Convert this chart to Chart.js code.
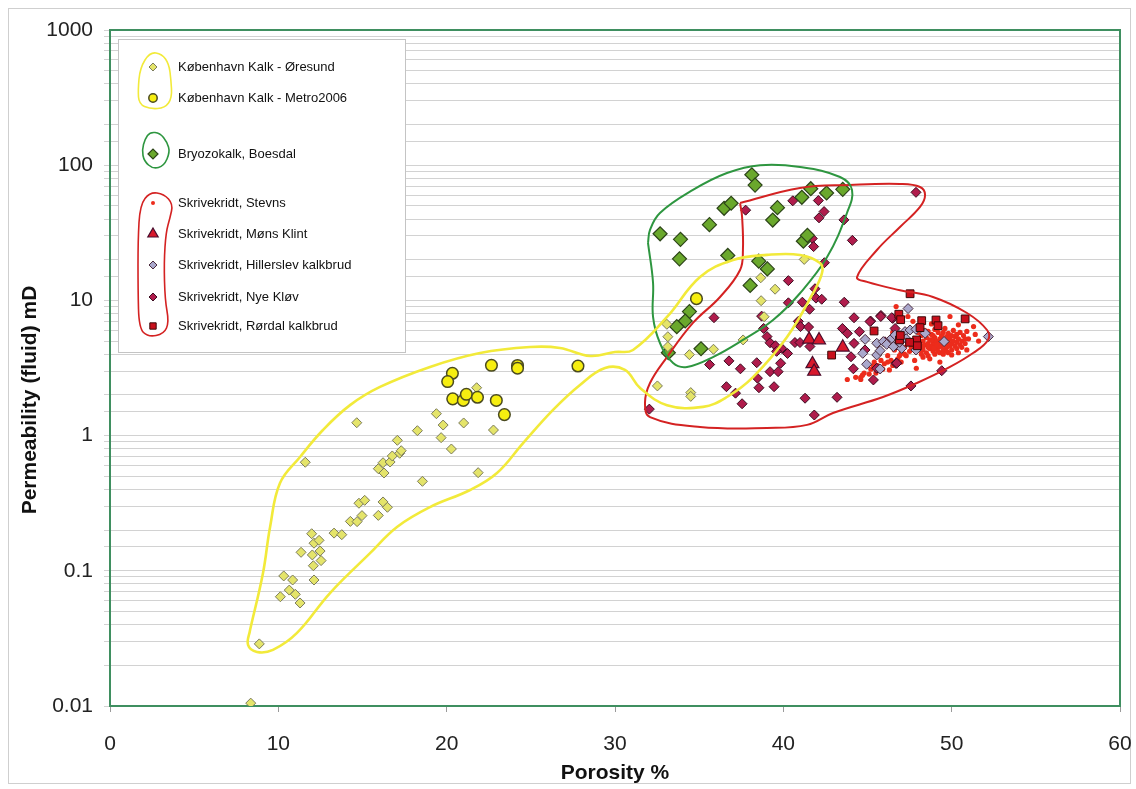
<!DOCTYPE html>
<html>
<head>
<meta charset="utf-8">
<script src="https://cdn.jsdelivr.net/npm/chart.js@4/dist/chart.umd.min.js"></script>
<style>
html,body{margin:0;padding:0;background:#fff}
</style>
</head>
<body>
<canvas id="chart" width="1136" height="789"></canvas>
<script>
// porosity %, permeability mD
var oresund=[[8.36,0.0105],[8.87,0.0288],[10.12,0.0643],[10.32,0.0916],[10.65,0.072],[10.85,0.0855],[11.01,0.067],[11.29,0.0578],
 [11.6,0.635],[11.35,0.137],[11.98,0.188],[12.12,0.16],[12.42,0.168],[12.02,0.131],[12.48,0.14],[12.54,0.119],[12.08,0.109],[12.12,0.0855],
 [13.31,0.19],[13.77,0.185],[14.28,0.232],[14.68,0.231],[14.97,0.256],[14.79,0.316],[15.13,0.332],[14.66,1.245],[15.94,0.257],[16.22,0.323],
 [16.48,0.295],[15.94,0.569],[16.28,0.529],[16.22,0.63],[16.64,0.638],[16.77,0.707],[17.21,0.74],[17.3,0.773],[17.07,0.923],[18.26,1.087],
 [18.56,0.459],[19.39,1.452],[19.79,1.197],[19.67,0.966],[20.28,0.796],[21.01,1.24],[21.78,2.26],[22.78,1.1],[21.87,0.532],
 [33.08,6.66],[33.14,5.39],[33.14,4.55],[32.52,2.33],[34.5,2.08],[34.5,1.95],[34.42,3.97],[35.85,4.35],[37.61,5.1],[38.68,9.95],
 [38.66,14.7],[39.51,12.1],[38.86,7.57],[41.24,20.1]]
var metro2006=[[20.34,2.89],[20.06,2.51],[20.36,1.87],[20.99,1.82],[21.17,2.02],[21.83,1.92],[22.66,3.31],[24.21,3.3],[24.21,3.15],
 [22.95,1.82],[23.43,1.43],[27.8,3.27],[34.84,10.3]]
var bryozokalk=[[38.13,85],[38.32,71.3],[36.48,48],[36.9,52.3],[35.61,36.3],[32.68,31.1],[33.89,28.3],[33.83,20.3],[36.7,21.5],
 [39.65,48.5],[39.37,39.3],[41.1,57.9],[41.63,67],[42.57,62.3],[43.53,66.3],[41.19,27.4],[41.43,30.3],[38.54,19.5],[39.05,17.1],
 [38.03,12.9],[34.42,8.26],[34.17,7.04],[33.67,6.39],[35.11,4.39],[33.17,4.1]]
var stevns=[[47.9,5.2],[48.0,4.6],[48.1,4.9],[48.2,5.5],[48.3,4.3],[48.3,5.0],[48.4,4.7],[48.5,5.3],[48.5,4.1],[48.6,4.8],[48.7,5.1],
 [48.7,4.4],[48.8,5.6],[48.8,4.6],[48.9,4.9],[48.9,4.2],[49.0,5.3],[49.0,4.7],[49.1,5.0],[49.1,4.4],[49.2,5.8],[49.2,4.8],[49.3,4.1],
 [49.3,5.2],[49.4,4.6],[49.4,5.5],[49.5,4.9],[49.5,4.3],[49.6,5.1],[49.6,4.7],[49.7,5.4],[49.7,4.5],[49.8,4.9],[49.8,5.7],[49.9,4.6],
 [49.9,5.2],[50.0,4.8],[50.0,4.3],[50.1,5.0],[50.2,5.4],[50.2,4.6],[50.3,4.9],[50.4,5.2],[50.5,4.7],[50.6,5.0],[50.7,5.5],[50.8,4.8],
 [48.2,4.0],[48.6,3.9],[49.0,4.0],[49.5,4.0],[48.0,5.8],[48.4,6.0],[49.0,6.1],[49.6,6.2],[50.1,6.0],[50.5,5.8],[47.7,4.4],[47.6,5.0],
 [47.5,4.2],[47.4,4.8],[47.3,3.9],[47.2,4.5],[47.0,4.1],[46.8,3.7],[46.6,4.3],[46.4,3.6],[46.2,3.9],[46.0,3.4],[45.8,3.6],[45.6,3.3],
 [45.4,3.5],[45.2,3.1],[45.0,3.3],[44.8,2.9],[44.6,2.6],[44.7,2.8],[43.8,2.6],[44.6,2.7],[46.7,9.0],[47.7,7.0],[49.9,7.6],[50.4,6.6],
 [51.4,5.6],[51.3,6.4],[50.0,3.95],[47.9,3.15],[46.3,3.06],[45.35,3.3],[47.0,3.5],[48.7,3.7],[49.3,3.5],[51.0,5.2],[51.6,5.0],
 [50.9,4.3],[50.4,4.1],[48.8,6.7],[47.4,7.6],[46.5,5.8],[48.6,5.9],[49.8,4.1],[50.9,5.9],[48.95,4.45],[49.25,4.55],[49.65,4.85],
 [47.8,4.7],[48.1,4.3],[48.4,5.6],[48.6,4.5],[48.9,5.5],[49.2,4.2],[49.5,5.8],[49.7,4.2],[50.0,5.5],[50.3,4.4],[50.6,4.5],[49.1,4.7],
 [49.4,5.0],[48.8,5.1],[49.8,5.3],[50.3,5.6],[48.3,4.6],[48.0,5.1],[47.6,4.5],[47.2,4.0],[46.9,3.9],[46.5,3.3],[45.9,3.1],[45.5,2.9],
 [45.1,2.85],[44.3,2.7],[46.2,3.5],[47.8,3.6],[48.3,3.8],[50.8,5.2]]
var monsKlint=[[41.53,5.15],[42.12,5.09],[43.53,4.5],[41.73,3.39],[41.83,2.98]]
var hillerslev=[[47.41,8.7],[52.18,5.4],[44.86,5.15],[45.55,4.82],[45.94,4.96],[44.72,4.06],[45.55,3.95],[45.75,4.25],[44.95,3.37],
 [45.75,3.11],[46.14,4.73],[46.44,5.25],[46.84,5.55],[47.23,5.88],[47.53,6.04],[46.54,4.55],[47.03,4.42],[47.88,4.3],[48.42,5.71],
 [49.55,4.96],[47.88,6.11],[46.64,5.55],[47.3,5.2],[46.9,4.9]]
var nyeKlov=[[47.88,63],[40.56,54.5],[42.08,54.8],[37.76,46.5],[42.42,45.4],[42.12,40.8],[43.6,39.4],[41.72,28.7],[41.8,25],[44.1,27.8],
 [42.44,19],[40.3,14],[41.88,12.2],[41.94,10.4],[42.28,10.2],[40.3,9.6],[41.13,9.7],[41.56,8.6],[43.62,9.7],[35.88,7.45],[38.71,7.65],
 [38.83,6.2],[40.89,7.0],[41.02,6.4],[41.5,6.35],[39.03,5.4],[39.21,4.86],[39.53,4.62],[39.9,4.42],[39.6,4.2],[40.25,4.05],[40.69,4.88],
 [40.99,4.88],[41.58,4.56],[39.84,3.43],[35.62,3.35],[36.77,3.57],[38.42,3.46],[37.45,3.12],[39.21,2.97],[39.69,2.97],[38.46,2.66],
 [38.55,2.26],[39.45,2.3],[36.62,2.3],[37.16,2.06],[37.55,1.72],[41.29,1.89],[43.19,1.92],[41.84,1.42],[32.04,1.57],[44.2,7.44],
 [45.19,7.03],[45.8,7.74],[43.51,6.2],[43.8,5.7],[44.52,5.87],[44.2,4.81],[44.02,3.83],[44.16,3.12],[45.35,2.58],[46.69,3.42],
 [46.04,4.94],[44.85,4.3],[47.58,2.33],[49.41,3.02],[46.5,7.36],[46.74,4.68],[46.64,6.2],[46.74,3.43],[45.55,3.15],[45.15,6.97],
 [45.79,7.6],[46.44,7.45]]
var rordal=[[47.53,11.2],[46.86,7.9],[46.97,7.2],[48.22,7.08],[49.07,7.16],[49.19,6.5],[50.8,7.3],[48.12,6.29],[45.39,5.94],[42.87,3.94],
 [46.9,5.1],[47.92,5.1],[47.96,4.62],[46.95,5.5],[47.5,4.9]]

// hand drawn envelopes, closed loops
var envelopeYellow=[[8.32,0.0365],[9.09,0.0964],[9.51,0.211],[10.1,0.446],[11.29,0.695],[12.65,1.1],[14.26,1.68],[16.04,2.29],[19.01,3.22],
 [21.98,4.08],[24.95,4.52],[26.73,4.45],[28.52,3.88],[30.0,4.15],[31.07,4.3],[33.09,7.54],[35.05,14.9],[37.01,19.9],[39.03,21.7],
 [40.99,21.7],[42.18,18.9],[42.3,16],[41.76,11.3],[40.22,5.36],[38.2,2.71],[36.65,1.93],[35.23,1.63],[33.09,1.68],[31.49,2.25],
 [30.59,3.06],[29.41,3.16],[27.92,2.37],[26.32,1.55],[24.54,0.881],[22.99,0.529],[21.39,0.396],[19.01,0.296],[17.05,0.211],
 [15.45,0.135],[13.07,0.0685],[11.11,0.0347],[9.68,0.026],[8.73,0.0251],[8.2,0.0283],[8.32,0.0365]]
var envelopeGreen=[[31.96,26.6],[32.26,13.5],[32.26,7.54],[32.67,4.84],[33.45,3.44],[34.28,3.22],[35.82,3.81],[37.6,5.1],[39.39,7.16],
 [40.99,11.3],[42.6,20.9],[43.78,44.3],[44.08,65.6],[43.37,81.8],[40.99,97],[38.62,100],[36.65,87.5],[34.63,65.6],[32.67,44.3],
 [32.08,33.2],[31.96,26.6]]
var envelopeRed=[[37.43,52.5],[40.99,67.8],[43.96,71.4],[46.93,72.6],[48.12,69],[48.42,60.2],[48.12,49.1],[46.93,34.9],[45.56,23.6],
 [44.38,14.9],[44.97,13.7],[46.93,11.9],[48.89,10.6],[50.91,8.07],[52.1,6.04],[52.16,5.1],[51.27,4.08],[49.9,3.22],[47.94,2.45],
 [45.92,1.93],[42.95,1.47],[41.41,1.2],[39.03,1.14],[35.05,1.16],[32.08,1.37],[31.78,1.74],[32.08,2.45],[33.09,3.81],[34.63,6.81],
 [36.24,10.6],[37.43,16.8],[37.6,23.6],[37.55,41.4],[37.43,52.5]]

var legendLabels=['København Kalk - Øresund','København Kalk - Metro2006','Bryozokalk, Boesdal','Skrivekridt, Stevns',
 'Skrivekridt, Møns Klint','Skrivekridt, Hillerslev kalkbrud','Skrivekridt, Nye Kløv','Skrivekridt, Rørdal kalkbrud']
var xTitle='Porosity %'
var yTitle='Permeability (fluid) mD'

var FONT='"Liberation Sans", Arial, sans-serif'

function pts(a){return a.map(function(p){return {x:p[0],y:p[1]}})}

var styles=[
 {style:'rectRot',r:5,bg:'#e4e46a',bd:'#7c7c5c',bw:1},
 {style:'circle',r:5.8,bg:'#f6ee10',bd:'#4a4a20',bw:1.5},
 {style:'rectRot',r:7,bg:'#6aa82c',bd:'#2c4418',bw:1.2},
 {style:'circle',r:2.6,bg:'#ec2c1c',bd:'#ec2c1c',bw:0},
 {style:'triangle',r:7.5,bg:'#d8182c',bd:'#4a0c2c',bw:1.2},
 {style:'rectRot',r:5,bg:'#aaa8cc',bd:'#4a2a3c',bw:1},
 {style:'rectRot',r:5,bg:'#b01c4c',bd:'#3c0c20',bw:1},
 {style:'rect',r:5.5,bg:'#c8101c',bd:'#3a0808',bw:1}
]
var series=[oresund,metro2006,bryozokalk,stevns,monsKlint,hillerslev,nyeKlov,rordal]
var orders=[6,5,7,9,3,4,8,2]

var datasets=series.map(function(s,i){
 var st=styles[i]
 return {label:legendLabels[i],data:pts(s),pointStyle:st.style,pointRadius:st.r,pointHoverRadius:st.r,
  backgroundColor:st.bg,borderColor:st.bd,pointBorderWidth:st.bw,borderWidth:st.bw,showLine:false,order:orders[i]}
})
;[[envelopeYellow,'#f2ea3a',2.6],[envelopeGreen,'#2e9640',2],[envelopeRed,'#d42222',2]].forEach(function(e){
 datasets.push({label:'',data:pts(e[0]),showLine:true,pointRadius:0,borderColor:e[1],borderWidth:e[2],
  backgroundColor:'transparent',fill:false,tension:0.4,order:0})
})

function blob(ctx,p){
 var n=p.length
 function mid(a,b){return [(a[0]+b[0])/2,(a[1]+b[1])/2]}
 var m=mid(p[n-1],p[0])
 ctx.beginPath();ctx.moveTo(m[0],m[1])
 for(var i=0;i<n;i++){
  var q=mid(p[i],p[(i+1)%n])
  ctx.quadraticCurveTo(p[i][0],p[i][1],q[0],q[1])
 }
 ctx.closePath();ctx.stroke()
}

var frame={
 id:'frame',
 beforeDraw:function(chart){
  var ctx=chart.ctx
  ctx.save()
  ctx.fillStyle='#fff';ctx.fillRect(0,0,chart.width,chart.height)
  ctx.strokeStyle='#cfcfcf';ctx.lineWidth=1
  ctx.strokeRect(8.5,8.5,1122,775)
  ctx.restore()
 },
 beforeDatasetsDraw:function(chart){
  var a=chart.chartArea,ctx=chart.ctx
  ctx.save()
  ctx.strokeStyle='#3f8f60';ctx.lineWidth=2
  ctx.strokeRect(a.left,a.top,a.right-a.left,a.bottom-a.top)
  ctx.restore()
 },
 afterDraw:function(chart){
  var ctx=chart.ctx
  ctx.save()
  // y axis title
  ctx.save()
  ctx.translate(30,400);ctx.rotate(-Math.PI/2)
  ctx.font='bold 21px '+FONT;ctx.fillStyle='#111';ctx.textAlign='center';ctx.textBaseline='middle'
  ctx.fillText(yTitle,0,0)
  ctx.restore()
  // legend
  ctx.fillStyle='#fff';ctx.strokeStyle='#c4c4c4';ctx.lineWidth=1
  ctx.fillRect(118.5,39.5,287,313);ctx.strokeRect(118.5,39.5,287,313)
  var ys=[67,98,154,203,234,265,297,326]
  ctx.font='13px '+FONT;ctx.textBaseline='middle'
  for(var i=0;i<8;i++){
   var st=styles[i]
   ctx.fillStyle=st.bg;ctx.strokeStyle=st.bd;ctx.lineWidth=st.bw
   var r=[4,4.2,5,2,6,4,4,4.5][i]
   Chart.helpers.drawPoint(ctx,{pointStyle:st.style,radius:r,borderWidth:st.bw},153,ys[i])
   ctx.fillStyle='#111'
   ctx.fillText(legendLabels[i],178,ys[i])
  }
  ctx.lineWidth=1.6
  ctx.strokeStyle='#f2ea3a'
  blob(ctx,[[150,52],[162,54],[169,64],[171,80],[172,98],[165,108],[150,109],[139,104],[138,90],[140,68]])
  ctx.strokeStyle='#2e9640'
  blob(ctx,[[150,132],[160,133],[167,142],[170,152],[164,166],[153,169],[144,161],[142,150],[145,139]])
  ctx.strokeStyle='#d42222'
  blob(ctx,[[150,192],[164,194],[173,204],[170,218],[166,232],[164,262],[165,300],[169,322],[164,334],[148,337],[139,328],[138,290],[138,240],[140,205]])
  ctx.restore()
 }
}

new Chart(document.getElementById('chart'),{
 type:'scatter',
 data:{datasets:datasets},
 options:{
  responsive:false,animation:false,devicePixelRatio:1,
  layout:{padding:{left:0,top:30,right:16,bottom:0}},
  plugins:{legend:{display:false},tooltip:{enabled:false}},
  scales:{
   x:{type:'linear',min:0,max:60,
    ticks:{stepSize:10,color:'#222',font:{family:FONT,size:21},padding:20},
    grid:{drawOnChartArea:false,color:'#9a9a9a',tickLength:6},
    border:{display:false},
    title:{display:true,text:xTitle,color:'#111',font:{family:FONT,size:21,weight:'bold'},padding:{top:0,bottom:3}},
    afterFit:function(s){s.height=83;s.paddingLeft=0;s.paddingRight=0}
   },
   y:{type:'logarithmic',min:0.01,max:1000,
    ticks:{autoSkip:false,color:'#222',font:{family:FONT,size:21},padding:11,
     callback:function(v){var l=Math.log10(v);return Math.abs(l-Math.round(l))<1e-6?String(v):''}},
    grid:{color:'#d2d2d2',tickLength:6},
    border:{display:false},
    afterFit:function(s){s.width=110;s.paddingTop=0;s.paddingBottom=0}
   }
  }
 },
 plugins:[frame]
})
</script>
</body>
</html>
